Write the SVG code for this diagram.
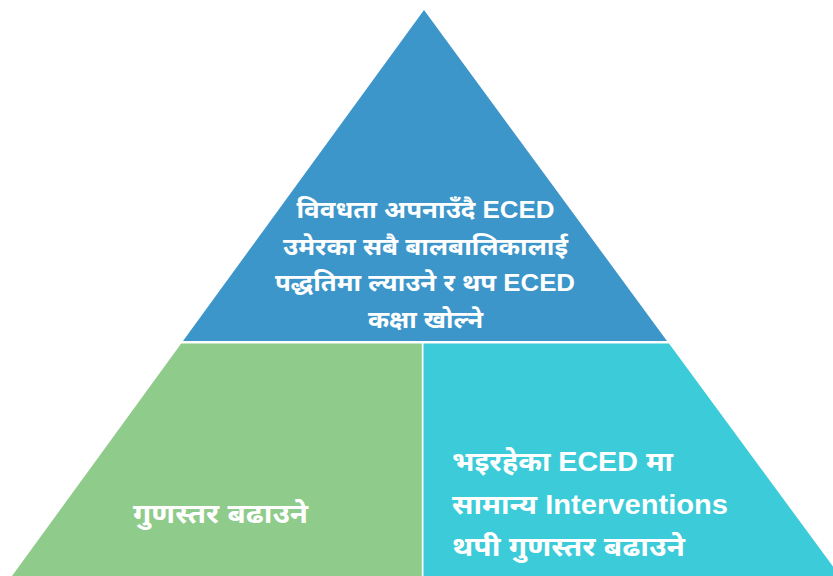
<svg xmlns="http://www.w3.org/2000/svg" width="833" height="576" viewBox="0 0 833 576">
<style>
.t{font-family:"Liberation Sans","Noto Sans Devanagari","Noto Sans",sans-serif;font-weight:bold;fill:#ffffff}
.top{font-size:24px}
.big{font-size:27px}
</style>
<rect width="833" height="576" fill="#ffffff"/>
<g id="node-top">
<polygon points="424,10 667,341 183,341" fill="#3d96ca"/>
<text class="t top" x="425.5" y="218" text-anchor="middle" textLength="258" lengthAdjust="spacingAndGlyphs">विवधता अपनाउँदै ECED</text>
<text class="t top" x="425.5" y="254.5" text-anchor="middle" textLength="285" lengthAdjust="spacingAndGlyphs">उमेरका सबै बालबालिकालाई</text>
<text class="t top" x="425" y="291" text-anchor="middle" textLength="300" lengthAdjust="spacingAndGlyphs">पद्धतिमा ल्याउने र थप ECED</text>
<text class="t top" x="425.5" y="327.5" text-anchor="middle" textLength="115" lengthAdjust="spacingAndGlyphs">कक्षा खोल्ने</text>
</g>
<g id="node-left">
<polygon points="181.2,343.5 421.8,343.5 421.8,576 12,576" fill="#8fcb8a"/>
<text class="t big" x="133" y="523" textLength="175" lengthAdjust="spacingAndGlyphs">गुणस्तर बढाउने</text>
</g>
<g id="node-right">
<polygon points="423.5,343.5 669,343.5 840,576 423.5,576" fill="#3ccbd9"/>
<text class="t big" x="452" y="471" textLength="221" lengthAdjust="spacingAndGlyphs">भइरहेका ECED मा</text>
<text class="t big" x="452" y="513.5" textLength="276" lengthAdjust="spacingAndGlyphs">सामान्य Interventions</text>
<text class="t big" x="452" y="556" textLength="233" lengthAdjust="spacingAndGlyphs">थपी गुणस्तर बढाउने</text>
</g>
<g id="connectors"/>
</svg>
